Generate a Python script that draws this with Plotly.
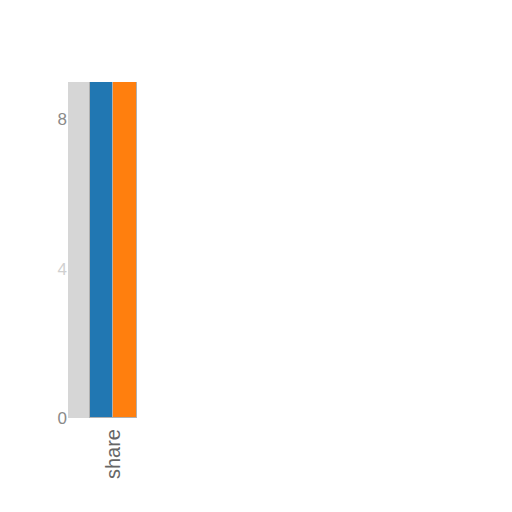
import plotly.graph_objects as go

categories = ["share"]
series_a = [9.0]
series_b = [9.0]
y_ticks = [0, 4, 8]
y_tick_labels = ["0", "<span style='color:#d0d0d0'>4</span>", "8"]

fig = go.Figure()
fig.add_trace(go.Bar(x=categories, y=series_a, marker=dict(color="#2177b2", line=dict(color="#b0b0b0", width=1)), showlegend=False))
fig.add_trace(go.Bar(x=categories, y=series_b, marker=dict(color="#ff7f0e", line=dict(color="#b0b0b0", width=1)), showlegend=False))

fig.update_layout(
    width=512, height=512,
    margin=dict(l=60, r=383, t=74, b=102),
    barmode="group", bargap=0, bargroupgap=0,
    plot_bgcolor="#d6d6d6", paper_bgcolor="white",
    font=dict(family="Liberation Sans, Arial, sans-serif", color="#666666"),
)
fig.update_xaxes(type="category", range=[-0.96, 0.51], tickangle=-90, showgrid=False,
                 tickfont=dict(size=20, color="#666666"), ticks="", zeroline=False,
                 ticklabelstandoff=6)
fig.update_yaxes(range=[0, 9], tickvals=y_ticks, ticktext=y_tick_labels, showgrid=False, zeroline=False,
                 tickfont=dict(size=17, color="#8a8a8a"), ticks="")
fig.write_html("out.html")
